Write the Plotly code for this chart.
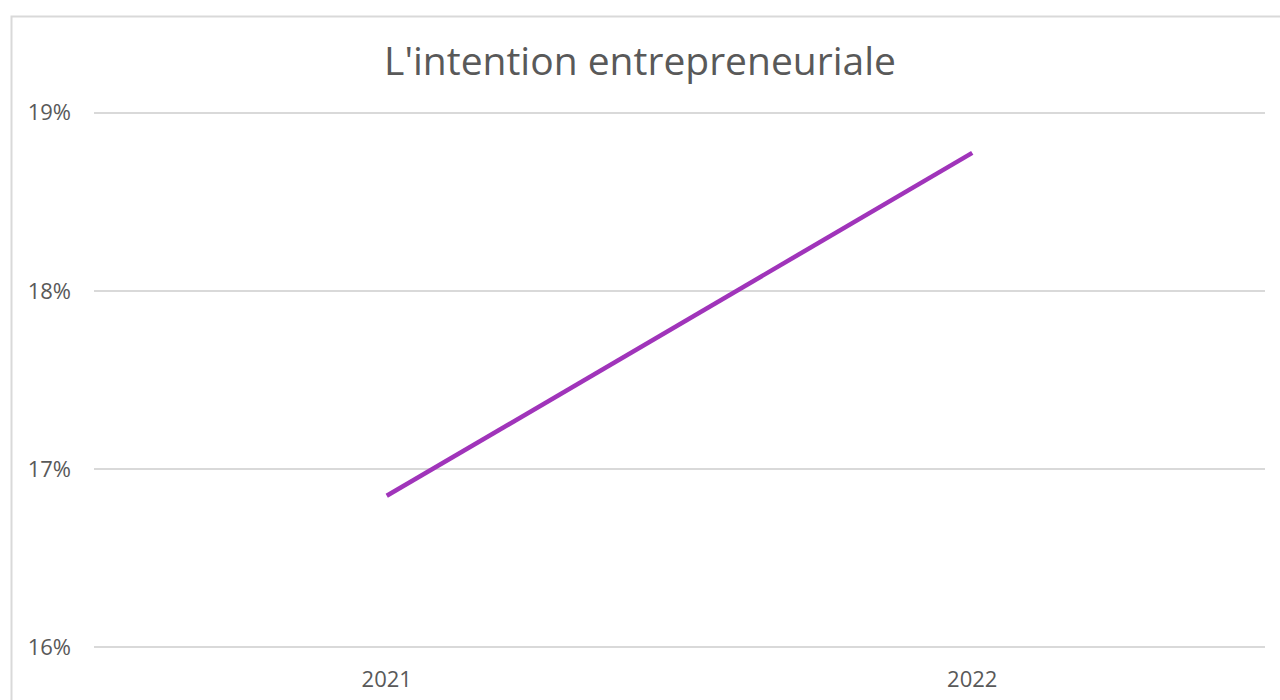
import plotly.graph_objects as go

categories = ["2021", "2022"]
values = [0.1685, 0.18775]
y_ticks = [0.16, 0.17, 0.18, 0.19]
y_tick_labels = ["16%", "17%", "18%", "19%"]
title_text = "L'intention entrepreneuriale"

FONT = "Open Sans"
TXT = "#595959"
GRID = "#d9d9d9"

fig = go.Figure()
fig.add_trace(go.Scatter(
    x=categories, y=values, mode="lines",
    line=dict(color="#A034BA", width=4.5),
    hoverinfo="x+y", showlegend=False,
))

# plot area: y 111..649 (range padded slightly so edge gridlines show)
fig.update_layout(
    width=1280, height=700,
    paper_bgcolor="white", plot_bgcolor="white",
    margin=dict(l=94, r=15, t=111, b=51, pad=0, autoexpand=False),
    title=dict(text=title_text, x=0.5, xanchor="center", y=1 - 61/700, yanchor="middle",
               font=dict(family=FONT, size=39, color=TXT)),
    font=dict(family=FONT, color=TXT),
    xaxis=dict(type="category", range=[-0.5, 1.5], showgrid=False, showline=False,
               zeroline=False, ticks="", tickfont=dict(size=22, color=TXT),
               ticklabelstandoff=15, automargin=False),
    yaxis=dict(range=[0.1599, 0.1901], tickvals=y_ticks, ticktext=y_tick_labels,
               showgrid=True, gridcolor=GRID, gridwidth=1.5, zeroline=False,
               showline=False, ticks="", tickfont=dict(size=22, color=TXT),
               ticklabelstandoff=22, automargin=False),
    shapes=[dict(type="rect", xref="paper", yref="paper",
                 x0=(11.5 - 94) / 1171, x1=(1300 - 94) / 1171,
                 y0=(649 - 720) / 538, y1=(649 - 16.5) / 538,
                 line=dict(color=GRID, width=2), fillcolor="rgba(0,0,0,0)", layer="below")],
)

fig.write_html("out.html", config={"displayModeBar": False},
               post_script="document.body.style.margin='0px';document.body.style.overflow='hidden';")
